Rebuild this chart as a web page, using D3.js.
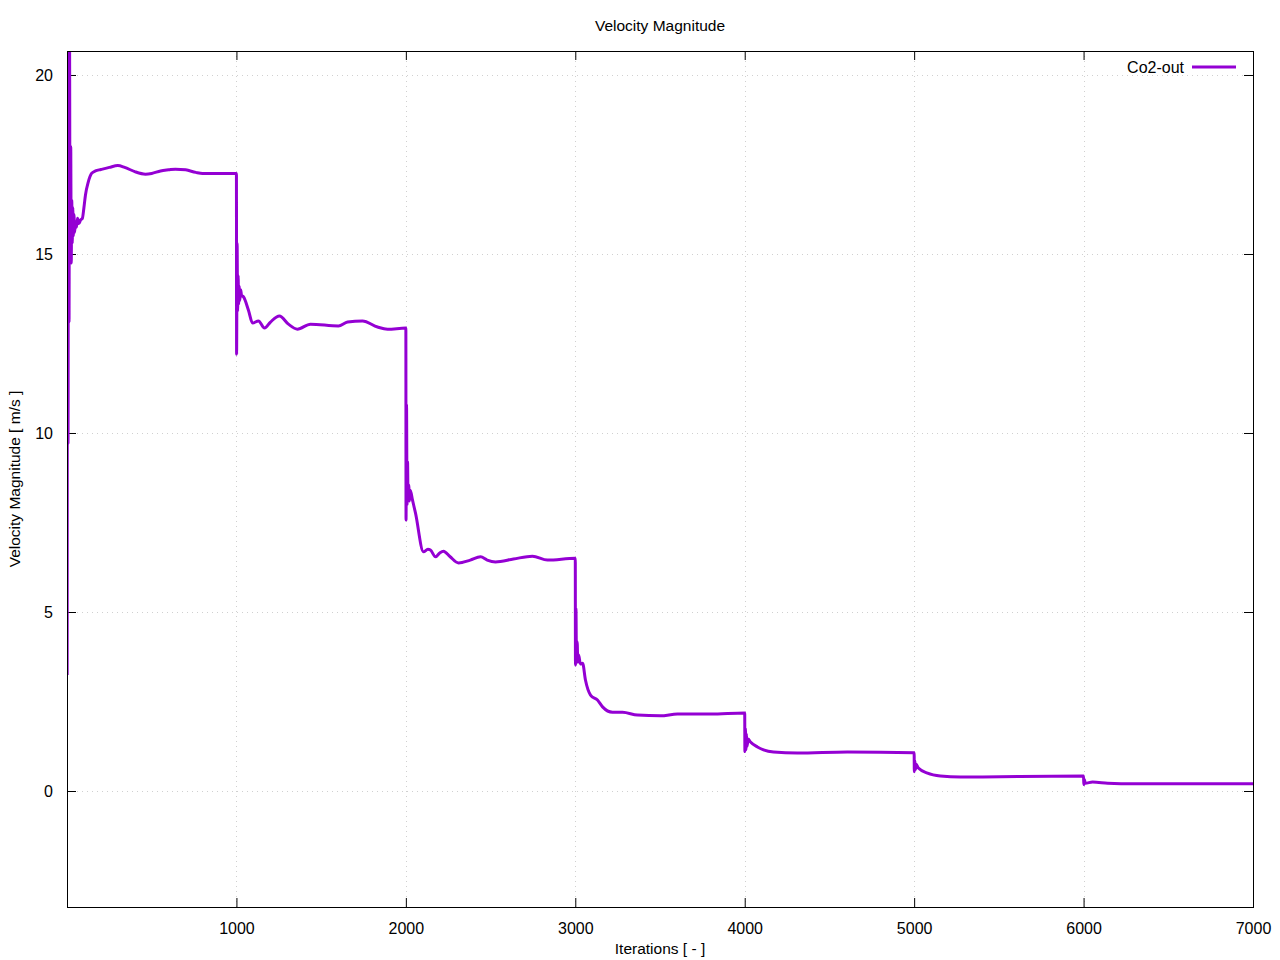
<!DOCTYPE html>
<html>
<head>
<meta charset="utf-8">
<script src="https://cdn.jsdelivr.net/npm/d3@7"></script>
<style>
  body { margin: 0; background: #fff; }
  svg { display: block; font-family: "Liberation Sans", Arial, sans-serif; }
</style>
</head>
<body>
<svg id="chart" width="1280" height="960"></svg>
<script>
const chartTitle = "Velocity Magnitude";
const xLabel = "Iterations [ - ]";
const yLabel = "Velocity Magnitude [ m/s ]";
const seriesName = "Co2-out";
const xTicks = [1000, 2000, 3000, 4000, 5000, 6000, 7000];
const yTicks = [0, 5, 10, 15, 20];
const xDomain = [0, 7000];
const yDomain = [-3.24, 20.67];

const iterations = [
  1, 4, 6, 9, 12, 15, 18, 22, 25, 28, 31, 34, 37, 41, 45, 50, 56, 62, 70, 80, 91, 100, 109, 125, 145, 168, 200, 250, 300, 340, 400, 463, 500, 552, 600, 640, 700, 760, 800, 1000,
  1001, 1004, 1007, 1010, 1013, 1016, 1020, 1025, 1030, 1042, 1071, 1095, 1130, 1166, 1201, 1254, 1307, 1360, 1437, 1602, 1656, 1744, 1833, 1892, 2000,
  2001, 2004, 2007, 2010, 2013, 2017, 2021, 2026, 2039, 2057, 2104, 2130, 2145, 2175, 2200, 2222, 2260, 2311, 2380, 2441, 2480, 2529, 2635, 2747, 2836, 3000,
  3001, 3004, 3007, 3011, 3015, 3020, 3030, 3043, 3060, 3090, 3131, 3161, 3220, 3279, 3367, 3503, 3603, 3798, 4000,
  4001, 4004, 4007, 4010, 4014, 4020, 4034, 4075, 4111, 4170, 4311, 4606, 5000,
  5001, 5004, 5008, 5012, 5025, 5079, 5155, 5274, 5510, 6000,
  6001, 6005, 6010, 6053, 6142, 6300, 7000
];
const velocity = [
  3.24, 21.5, 9.7, 20.4, 13.1, 21.0, 15.0, 18.0, 14.75, 16.5, 15.3, 16.3, 15.5, 16.1, 15.6, 15.9, 15.75, 16.0, 15.85, 15.95, 16.0, 16.3, 16.65, 17.0, 17.25, 17.32, 17.36, 17.42, 17.47, 17.42, 17.3, 17.23, 17.25, 17.32, 17.35, 17.37, 17.35, 17.28, 17.25, 17.25,
  12.2, 15.3, 13.4, 14.4, 13.6, 14.1, 13.7, 14.0, 13.85, 13.8, 13.43, 13.07, 13.13, 12.93, 13.1, 13.27, 13.04, 12.9, 13.04, 12.99, 13.1, 13.13, 12.96, 12.9, 12.93,
  7.57, 10.8, 8.0, 9.2, 8.1, 8.55, 8.1, 8.4, 8.13, 7.76, 6.68, 6.75, 6.73, 6.54, 6.65, 6.7, 6.55, 6.37, 6.45, 6.54, 6.45, 6.4, 6.48, 6.56, 6.45, 6.5,
  3.52, 5.1, 3.6, 4.17, 3.6, 3.8, 3.55, 3.57, 3.1, 2.68, 2.54, 2.35, 2.2, 2.2, 2.12, 2.1, 2.15, 2.15, 2.18,
  1.1, 1.75, 1.15, 1.6, 1.25, 1.45, 1.37, 1.23, 1.15, 1.09, 1.06, 1.09, 1.07,
  0.54, 0.85, 0.6, 0.75, 0.64, 0.5, 0.42, 0.39, 0.40, 0.42,
  0.18, 0.32, 0.22, 0.25, 0.22, 0.2, 0.2
];

const svg = d3.select("#chart");
const W = 1280, H = 960;
const m = { left: 67, right: 27, top: 51, bottom: 53 };
const pw = W - m.left - m.right, ph = H - m.top - m.bottom;

const x = d3.scaleLinear().domain(xDomain).range([m.left, m.left + pw]);
const y = d3.scaleLinear().domain(yDomain).range([m.top + ph, m.top]);
const fmt = d3.format("d");

// grid
const grid = svg.append("g").attr("stroke", "#d0d0d0").attr("stroke-width", 1).attr("stroke-dasharray", "1,4");
xTicks.filter(t => t < xDomain[1]).forEach(t => {
  grid.append("line").attr("x1", Math.round(x(t)) + 0.5).attr("x2", Math.round(x(t)) + 0.5).attr("y1", m.top).attr("y2", m.top + ph);
});
yTicks.forEach(t => {
  grid.append("line").attr("y1", Math.round(y(t)) + 0.5).attr("y2", Math.round(y(t)) + 0.5).attr("x1", m.left).attr("x2", m.left + pw);
});

// axes (inward ticks, mirrored)
const tl = 9;
const axB = svg.append("g").attr("transform", `translate(0,${m.top + ph})`)
  .call(d3.axisBottom(x).tickValues(xTicks).tickFormat(fmt).tickSizeInner(-tl).tickSizeOuter(0).tickPadding(tl + 7));
const axT = svg.append("g").attr("transform", `translate(0,${m.top})`)
  .call(d3.axisTop(x).tickValues(xTicks).tickSizeInner(-tl).tickSizeOuter(0).tickFormat(""));
const axL = svg.append("g").attr("transform", `translate(${m.left},0)`)
  .call(d3.axisLeft(y).tickValues(yTicks).tickFormat(fmt).tickSizeInner(-tl).tickSizeOuter(0).tickPadding(tl + 5));
const axR = svg.append("g").attr("transform", `translate(${m.left + pw},0)`)
  .call(d3.axisRight(y).tickValues(yTicks).tickSizeInner(-tl).tickSizeOuter(0).tickFormat(""));
[axB, axT, axL, axR].forEach(a => {
  a.select(".domain").remove();
  a.selectAll("line").attr("stroke", "#000").attr("stroke-width", 1);
  a.selectAll("text").attr("font-size", 16).attr("fill", "#000").attr("font-family", "Liberation Sans, Arial, sans-serif");
});

// clip + line
svg.append("clipPath").attr("id", "clip").append("rect")
  .attr("x", m.left).attr("y", m.top).attr("width", pw).attr("height", ph);

const pts = iterations.map((it, i) => [it, velocity[i]]);
const line = d3.line().x(d => x(d[0])).y(d => y(d[1])).curve(d3.curveMonotoneX);
svg.append("path").datum(pts).attr("clip-path", "url(#clip)")
  .attr("fill", "none").attr("stroke", "#9400D3").attr("stroke-width", 3)
  .attr("stroke-linejoin", "round").attr("d", line);

// border
svg.append("rect").attr("x", m.left + 0.5).attr("y", m.top + 0.5).attr("width", pw).attr("height", ph)
  .attr("fill", "none").attr("stroke", "#000").attr("stroke-width", 1);

// title & labels
svg.append("text").attr("x", m.left + pw / 2).attr("y", 31).attr("text-anchor", "middle")
  .attr("font-size", 15.5).text(chartTitle);
svg.append("text").attr("x", m.left + pw / 2).attr("y", 954).attr("text-anchor", "middle")
  .attr("font-size", 15.5).text(xLabel);
svg.append("text").attr("transform", `translate(20,${m.top + ph / 2}) rotate(-90)`).attr("text-anchor", "middle")
  .attr("font-size", 15.5).text(yLabel);

// legend
svg.append("text").attr("x", 1184).attr("y", 73).attr("text-anchor", "end").attr("font-size", 16).text(seriesName);
svg.append("line").attr("x1", 1192).attr("x2", 1236).attr("y1", 67).attr("y2", 67)
  .attr("stroke", "#9400D3").attr("stroke-width", 3);
</script>
</body>
</html>
